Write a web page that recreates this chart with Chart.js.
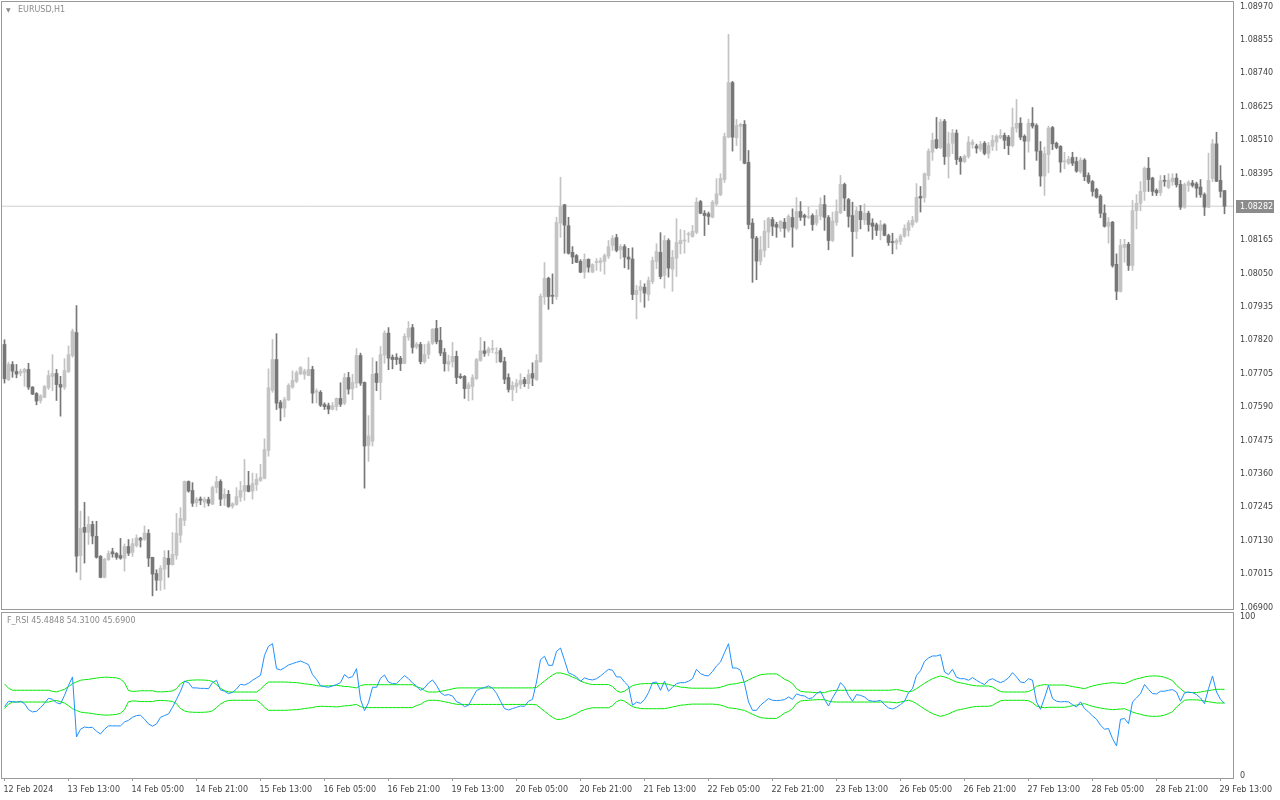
<!DOCTYPE html>
<html>
<head>
<meta charset="utf-8">
<title>EURUSD,H1</title>
<script src="https://cdn.jsdelivr.net/npm/chart.js@4.4.1/dist/chart.umd.min.js"></script>
<style>
  html, body { margin: 0; padding: 0; background: #fff; }
  body { width: 1280px; height: 800px; position: relative; overflow: hidden; font-family: "DejaVu Sans", sans-serif; }
  canvas { position: absolute; left: 0; }
  #priceChart { top: 0; }
  #rsiChart { top: 611px; }
  .caption { position: absolute; font-size: 8px; line-height: 10px; color: #8a8a8a; white-space: nowrap; }
</style>
</head>
<body>
<canvas id="priceChart" width="1280" height="611"></canvas>
<canvas id="rsiChart" width="1280" height="189"></canvas>
<div class="caption" style="left:6px;top:5px;font-size:6px">▼</div>
<div class="caption" style="left:18px;top:5px">EURUSD,H1</div>
<div class="caption" style="left:7px;top:616px">F_RSI 45.4848 54.3100 45.6900</div>
<script>
// time axis labels, one every 16 hourly bars
const tickLabels = ["12 Feb 2024","13 Feb 13:00","14 Feb 05:00","14 Feb 21:00","15 Feb 13:00",
  "16 Feb 05:00","16 Feb 21:00","19 Feb 13:00","20 Feb 05:00","20 Feb 21:00","21 Feb 13:00",
  "22 Feb 05:00","22 Feb 21:00","23 Feb 13:00","26 Feb 05:00","26 Feb 21:00","27 Feb 13:00",
  "28 Feb 05:00","28 Feb 21:00","29 Feb 13:00"];
const priceTicks = [1.08970,1.08855,1.08740,1.08625,1.08510,1.08395,1.08165,1.08050,1.07935,
  1.07820,1.07705,1.07590,1.07475,1.07360,1.07245,1.07130,1.07015,1.06900];
const rsiTicks = [0, 100];

// EURUSD H1 candles
const opens = [
1.07806,1.07684,1.07737,1.07713,1.07707,1.07710,1.07720,1.07659,1.07637,1.07613,
1.07624,1.07657,1.07696,1.07706,1.07668,1.07659,1.07713,1.07768,1.07847,1.07079,
1.07176,1.07159,1.07186,1.07145,1.07076,1.07004,1.07065,1.07092,1.07086,1.07079,
1.07070,1.07110,1.07090,1.07113,1.07139,1.07135,1.07155,1.07073,1.07017,1.06993,
1.07032,1.07069,1.07048,1.07080,1.07149,1.07200,1.07334,1.07303,1.07261,1.07274,
1.07263,1.07272,1.07256,1.07313,1.07334,1.07277,1.07290,1.07249,1.07255,1.07280,
1.07300,1.07320,1.07301,1.07323,1.07338,1.07345,1.07441,1.07648,1.07754,1.07606,
1.07587,1.07615,1.07659,1.07679,1.07705,1.07703,1.07699,1.07720,1.07642,1.07641,
1.07599,1.07595,1.07583,1.07592,1.07620,1.07604,1.07692,1.07654,1.07673,1.07768,
1.07675,1.07458,1.07473,1.07706,1.07675,1.07769,1.07845,1.07762,1.07761,1.07758,
1.07741,1.07831,1.07864,1.07797,1.07806,1.07747,1.07772,1.07810,1.07861,1.07820,
1.07778,1.07738,1.07747,1.07765,1.07696,1.07696,1.07654,1.07661,1.07689,1.07751,
1.07784,1.07778,1.07789,1.07775,1.07785,1.07747,1.07692,1.07651,1.07661,1.07668,
1.07685,1.07671,1.07706,1.07685,1.07747,1.07970,1.08034,1.07975,1.07971,1.08224,
1.08287,1.08215,1.08123,1.08112,1.08092,1.08055,1.08099,1.08055,1.08088,1.08088,
1.08092,1.08110,1.08147,1.08174,1.08132,1.08143,1.08107,1.08100,1.07978,1.07992,
1.08003,1.07978,1.08023,1.08092,1.08123,1.08044,1.08164,1.08065,1.08103,1.08153,
1.08162,1.08184,1.08178,1.08192,1.08298,1.08258,1.08256,1.08244,1.08290,1.08322,
1.08374,1.08520,1.08708,1.08518,1.08557,1.08564,1.08433,1.08224,1.08172,1.08093,
1.08130,1.08193,1.08236,1.08219,1.08206,1.08227,1.08199,1.08243,1.08206,1.08264,
1.08250,1.08244,1.08250,1.08224,1.08248,1.08288,1.08243,1.08164,1.08226,1.08260,
1.08357,1.08305,1.08250,1.08195,1.08264,1.08235,1.08258,1.08224,1.08218,1.08199,
1.08218,1.08181,1.08158,1.08155,1.08161,1.08179,1.08199,1.08218,1.08230,1.08316,
1.08312,1.08388,1.08468,1.08512,1.08484,1.08575,1.08454,1.08499,1.08534,1.08448,
1.08436,1.08454,1.08495,1.08489,1.08478,1.08499,1.08464,1.08489,1.08503,1.08518,
1.08526,1.08520,1.08491,1.08551,1.08568,1.08523,1.08506,1.08568,1.08560,1.08472,
1.08386,1.08460,1.08553,1.08499,1.08488,1.08435,1.08430,1.08450,1.08436,1.08402,
1.08441,1.08388,1.08367,1.08340,1.08317,1.08258,1.08213,1.08227,1.08082,1.07989,
1.08140,1.08151,1.08078,1.08267,1.08292,1.08333,1.08413,1.08379,1.08337,1.08329,
1.08371,1.08347,1.08367,1.08379,1.08357,1.08279,1.08354,1.08362,1.08359,1.08348,
1.08322,1.08279,1.08377,1.08497,1.08371,1.08336];
const highs = [
1.07822,1.07745,1.07747,1.07737,1.07721,1.07724,1.07741,1.07661,1.07640,1.07633,
1.07665,1.07716,1.07771,1.07720,1.07696,1.07757,1.07801,1.07859,1.07940,1.07232,
1.07262,1.07213,1.07197,1.07197,1.07079,1.07070,1.07095,1.07104,1.07089,1.07138,
1.07119,1.07134,1.07137,1.07150,1.07142,1.07181,1.07168,1.07073,1.07030,1.07044,
1.07096,1.07096,1.07158,1.07224,1.07244,1.07336,1.07336,1.07330,1.07279,1.07281,
1.07280,1.07280,1.07318,1.07352,1.07340,1.07309,1.07303,1.07261,1.07313,1.07334,
1.07410,1.07369,1.07363,1.07361,1.07393,1.07481,1.07722,1.07823,1.07843,1.07613,
1.07624,1.07671,1.07715,1.07715,1.07730,1.07721,1.07761,1.07731,1.07653,1.07647,
1.07605,1.07604,1.07606,1.07622,1.07674,1.07706,1.07710,1.07703,1.07792,1.07776,
1.07677,1.07561,1.07760,1.07747,1.07799,1.07853,1.07864,1.07770,1.07774,1.07765,
1.07843,1.07885,1.07875,1.07813,1.07813,1.07806,1.07817,1.07861,1.07889,1.07865,
1.07792,1.07769,1.07813,1.07783,1.07705,1.07699,1.07675,1.07702,1.07758,1.07830,
1.07816,1.07797,1.07820,1.07795,1.07793,1.07762,1.07705,1.07678,1.07686,1.07705,
1.07693,1.07719,1.07743,1.07771,1.07980,1.08088,1.08038,1.08049,1.08244,1.08382,
1.08289,1.08244,1.08143,1.08116,1.08098,1.08118,1.08101,1.08084,1.08102,1.08104,
1.08118,1.08164,1.08181,1.08185,1.08150,1.08150,1.08137,1.08139,1.08009,1.08026,
1.08015,1.08038,1.08107,1.08153,1.08191,1.08181,1.08170,1.08130,1.08239,1.08202,
1.08199,1.08193,1.08216,1.08311,1.08302,1.08267,1.08262,1.08302,1.08377,1.08394,
1.08534,1.08874,1.08712,1.08581,1.08568,1.08577,1.08474,1.08239,1.08178,1.08178,
1.08233,1.08244,1.08244,1.08227,1.08233,1.08240,1.08253,1.08273,1.08312,1.08298,
1.08255,1.08279,1.08256,1.08270,1.08311,1.08319,1.08250,1.08262,1.08304,1.08388,
1.08362,1.08309,1.08296,1.08279,1.08285,1.08290,1.08265,1.08239,1.08224,1.08233,
1.08222,1.08186,1.08189,1.08170,1.08185,1.08218,1.08233,1.08247,1.08360,1.08350,
1.08397,1.08480,1.08534,1.08588,1.08582,1.08581,1.08537,1.08547,1.08545,1.08454,
1.08459,1.08522,1.08511,1.08496,1.08505,1.08505,1.08502,1.08526,1.08528,1.08546,
1.08534,1.08526,1.08620,1.08650,1.08587,1.08528,1.08582,1.08622,1.08566,1.08505,
1.08486,1.08558,1.08557,1.08503,1.08491,1.08468,1.08454,1.08468,1.08451,1.08449,
1.08446,1.08397,1.08371,1.08344,1.08322,1.08287,1.08243,1.08230,1.08118,1.08168,
1.08168,1.08158,1.08302,1.08322,1.08367,1.08417,1.08450,1.08382,1.08342,1.08388,
1.08388,1.08394,1.08394,1.08394,1.08371,1.08362,1.08370,1.08371,1.08365,1.08374,
1.08328,1.08465,1.08512,1.08537,1.08422,1.08336];
const lows = [
1.07673,1.07682,1.07693,1.07691,1.07698,1.07662,1.07651,1.07633,1.07598,1.07604,
1.07622,1.07651,1.07647,1.07613,1.07559,1.07651,1.07709,1.07762,1.07022,1.06995,
1.07053,1.07117,1.07119,1.07070,1.07002,1.07002,1.07062,1.07073,1.07066,1.07066,
1.07025,1.07079,1.07076,1.07108,1.07108,1.07131,1.07041,1.06940,1.06959,1.06959,
1.06963,1.07004,1.07046,1.07066,1.07124,1.07182,1.07297,1.07248,1.07248,1.07254,
1.07245,1.07250,1.07254,1.07295,1.07251,1.07251,1.07245,1.07242,1.07252,1.07265,
1.07269,1.07298,1.07273,1.07303,1.07334,1.07343,1.07421,1.07641,1.07582,1.07543,
1.07556,1.07613,1.07655,1.07674,1.07702,1.07686,1.07698,1.07604,1.07604,1.07592,
1.07582,1.07567,1.07580,1.07579,1.07592,1.07598,1.07635,1.07616,1.07657,1.07665,
1.07311,1.07403,1.07456,1.07647,1.07616,1.07741,1.07719,1.07722,1.07737,1.07716,
1.07739,1.07820,1.07776,1.07791,1.07739,1.07741,1.07757,1.07806,1.07808,1.07767,
1.07714,1.07714,1.07728,1.07671,1.07688,1.07620,1.07612,1.07615,1.07685,1.07748,
1.07765,1.07767,1.07777,1.07743,1.07744,1.07671,1.07642,1.07612,1.07640,1.07654,
1.07661,1.07654,1.07664,1.07682,1.07744,1.07944,1.07927,1.07946,1.07961,1.08175,
1.08120,1.08117,1.08084,1.08088,1.08053,1.08034,1.08055,1.08053,1.08061,1.08058,
1.08048,1.08102,1.08130,1.08125,1.08101,1.08070,1.08065,1.07960,1.07894,1.07952,
1.07934,1.07957,1.08015,1.08067,1.08032,1.08000,1.08038,1.07989,1.08040,1.08118,
1.08120,1.08158,1.08175,1.08187,1.08256,1.08181,1.08219,1.08242,1.08285,1.08318,
1.08364,1.08518,1.08472,1.08491,1.08440,1.08428,1.08204,1.08020,1.08029,1.08080,
1.08107,1.08139,1.08181,1.08175,1.08195,1.08175,1.08193,1.08141,1.08201,1.08233,
1.08216,1.08239,1.08199,1.08216,1.08235,1.08199,1.08132,1.08160,1.08216,1.08256,
1.08267,1.08210,1.08109,1.08170,1.08204,1.08219,1.08196,1.08168,1.08181,1.08166,
1.08180,1.08147,1.08118,1.08134,1.08150,1.08175,1.08179,1.08210,1.08225,1.08262,
1.08296,1.08374,1.08440,1.08480,1.08480,1.08426,1.08379,1.08463,1.08426,1.08392,
1.08432,1.08448,1.08482,1.08465,1.08471,1.08459,1.08448,1.08474,1.08474,1.08514,
1.08480,1.08460,1.08486,1.08537,1.08511,1.08409,1.08468,1.08551,1.08440,1.08351,
1.08319,1.08397,1.08477,1.08480,1.08399,1.08411,1.08426,1.08422,1.08399,1.08396,
1.08370,1.08360,1.08317,1.08310,1.08243,1.08210,1.08155,1.08072,1.07960,1.07986,
1.08089,1.08061,1.08061,1.08204,1.08266,1.08302,1.08333,1.08319,1.08319,1.08319,
1.08351,1.08342,1.08354,1.08348,1.08271,1.08275,1.08333,1.08348,1.08313,1.08313,
1.08250,1.08277,1.08367,1.08367,1.08313,1.08256];
const closes = [
1.07688,1.07737,1.07714,1.07704,1.07713,1.07720,1.07659,1.07635,1.07611,1.07629,
1.07661,1.07699,1.07706,1.07668,1.07659,1.07716,1.07771,1.07852,1.07077,1.07172,
1.07159,1.07186,1.07146,1.07073,1.07004,1.07066,1.07086,1.07085,1.07073,1.07070,
1.07110,1.07087,1.07120,1.07139,1.07132,1.07157,1.07070,1.07015,1.06994,1.07035,
1.07072,1.07048,1.07083,1.07156,1.07207,1.07334,1.07301,1.07259,1.07273,1.07269,
1.07272,1.07259,1.07313,1.07333,1.07273,1.07290,1.07248,1.07257,1.07282,1.07303,
1.07320,1.07300,1.07327,1.07341,1.07348,1.07444,1.07657,1.07754,1.07604,1.07587,
1.07616,1.07665,1.07682,1.07709,1.07726,1.07714,1.07720,1.07638,1.07645,1.07597,
1.07592,1.07583,1.07595,1.07620,1.07600,1.07692,1.07652,1.07675,1.07768,1.07673,
1.07456,1.07491,1.07703,1.07675,1.07771,1.07845,1.07759,1.07754,1.07754,1.07740,
1.07834,1.07861,1.07796,1.07807,1.07747,1.07771,1.07808,1.07858,1.07816,1.07776,
1.07740,1.07747,1.07765,1.07692,1.07692,1.07654,1.07667,1.07692,1.07754,1.07784,
1.07775,1.07790,1.07791,1.07778,1.07747,1.07686,1.07651,1.07665,1.07673,1.07682,
1.07671,1.07702,1.07690,1.07751,1.07972,1.08034,1.07971,1.07972,1.08226,1.08281,
1.08217,1.08120,1.08107,1.08089,1.08055,1.08099,1.08072,1.08081,1.08089,1.08095,
1.08112,1.08143,1.08171,1.08130,1.08143,1.08107,1.08100,1.07978,1.07992,1.08006,
1.07983,1.08026,1.08095,1.08126,1.08040,1.08164,1.08069,1.08106,1.08157,1.08164,
1.08166,1.08185,1.08196,1.08296,1.08258,1.08250,1.08247,1.08296,1.08325,1.08378,
1.08522,1.08708,1.08520,1.08560,1.08564,1.08430,1.08219,1.08172,1.08093,1.08132,
1.08196,1.08240,1.08213,1.08210,1.08230,1.08206,1.08247,1.08210,1.08264,1.08244,
1.08244,1.08246,1.08219,1.08250,1.08288,1.08244,1.08164,1.08231,1.08264,1.08357,
1.08310,1.08247,1.08195,1.08267,1.08236,1.08258,1.08219,1.08213,1.08199,1.08218,
1.08182,1.08157,1.08157,1.08164,1.08179,1.08206,1.08225,1.08234,1.08313,1.08310,
1.08394,1.08472,1.08509,1.08483,1.08572,1.08453,1.08497,1.08534,1.08443,1.08436,
1.08454,1.08503,1.08503,1.08482,1.08495,1.08464,1.08491,1.08509,1.08523,1.08526,
1.08509,1.08491,1.08553,1.08568,1.08520,1.08506,1.08568,1.08558,1.08472,1.08386,
1.08463,1.08551,1.08497,1.08485,1.08434,1.08437,1.08444,1.08430,1.08403,1.08441,
1.08384,1.08365,1.08333,1.08313,1.08258,1.08213,1.08227,1.08078,1.07989,1.08147,
1.08151,1.08078,1.08267,1.08292,1.08333,1.08413,1.08374,1.08333,1.08328,1.08370,
1.08368,1.08372,1.08379,1.08356,1.08279,1.08357,1.08364,1.08354,1.08344,1.08322,
1.08279,1.08371,1.08497,1.08368,1.08333,1.08282];

// F_RSI indicator and its two bands
const rsiValues = [
43.2,46.8,46.6,46.2,46.8,45.3,41.5,40.1,40.5,42.8,
45.5,48.7,48.0,45.9,45.1,50.5,56.8,62.1,24.3,29.2,
30.6,30.2,30.4,27.9,26.2,29.2,31.3,31.3,31.3,31.3,
33.8,34.8,36.7,37.8,38.0,35.5,32.5,31.1,32.5,36.7,
37.8,38.8,43.0,48.0,53.1,59.4,58.5,55.2,55.2,54.9,
54.9,54.7,58.5,60.0,53.9,53.1,51.6,52.4,54.5,57.5,
57.0,58.1,60.0,61.5,63.1,75.7,81.4,83.0,67.3,66.5,
67.9,69.6,70.5,71.3,72.1,71.1,69.8,63.6,60.6,56.6,
56.0,55.6,56.4,57.3,58.5,63.6,61.5,62.3,67.3,48.0,
40.9,45.9,55.6,55.6,61.2,63.3,58.9,57.9,57.9,60.4,
62.9,61.0,58.3,56.4,53.7,55.2,58.3,60.2,56.8,52.2,
50.5,51.0,50.1,46.6,45.5,43.4,44.3,48.9,53.5,54.7,
55.4,56.4,55.0,51.8,46.8,42.2,41.3,42.2,43.0,43.8,
43.6,46.8,48.0,58.9,73.0,75.1,69.4,69.4,78.2,80.3,
72.6,64.6,63.6,62.1,59.4,61.5,60.6,60.2,61.0,62.7,
64.8,66.9,66.3,62.1,62.1,58.9,56.4,44.3,46.2,45.5,
47.8,52.2,58.5,58.9,53.7,59.4,53.1,55.6,57.9,58.5,
58.5,59.4,61.0,66.9,64.2,63.1,62.7,65.6,69.0,71.5,
77.4,83.0,67.7,67.7,66.3,57.9,46.4,41.1,41.1,44.3,
46.4,48.5,47.4,47.2,47.4,47.8,49.5,48.0,51.4,50.5,
50.1,48.5,48.9,51.6,53.1,48.0,43.8,48.9,53.1,58.5,
55.8,50.5,46.8,51.0,50.5,49.5,47.4,46.8,46.8,47.4,
44.7,42.6,41.9,43.0,44.7,46.8,52.2,54.7,63.1,66.0,
71.9,74.0,75.3,75.3,76.1,65.2,63.6,66.9,61.9,61.0,
61.0,60.0,61.7,60.0,58.5,57.3,60.0,61.0,59.6,58.5,
59.6,61.5,64.8,62.1,58.9,58.5,61.0,60.0,46.4,41.7,
48.9,56.8,48.5,46.8,46.4,46.6,46.4,44.7,43.2,46.4,
42.2,40.1,37.6,35.5,31.7,29.2,29.6,23.3,18.7,35.5,
35.9,32.7,46.4,48.9,51.6,57.3,54.3,51.6,51.4,53.1,
53.1,53.7,54.1,52.6,46.8,52.0,52.6,52.2,51.0,48.9,
45.3,54.7,62.7,52.6,48.0,45.4848];
const upperBand = [
57.7,55.0,53.7,53.7,53.7,53.7,53.7,53.7,53.7,53.7,
53.7,53.7,53.0,52.7,53.5,54.3,56.0,57.9,59.0,60.0,
60.4,60.6,61.0,61.4,61.7,61.9,61.9,61.7,61.5,60.7,
58.5,53.5,53.0,53.1,53.4,53.4,53.4,53.4,52.8,52.7,
52.8,53.0,53.3,54.7,57.8,59.3,59.9,60.1,60.2,60.2,
60.1,59.9,59.2,57.2,55.0,53.5,52.7,52.6,52.6,52.6,
52.6,52.6,52.6,52.6,54.3,57.0,58.9,58.9,58.9,58.9,
58.9,58.8,58.6,58.5,58.2,57.8,57.5,57.2,56.6,56.4,
56.4,56.5,56.6,56.8,56.5,56.1,56.0,55.6,55.2,56.6,
57.2,57.2,57.2,57.2,57.2,57.2,57.2,57.2,57.2,57.2,
57.2,57.2,57.2,55.9,55.2,53.5,52.6,52.6,52.6,53.0,
53.5,54.0,54.6,55.1,55.2,55.2,55.2,55.2,55.2,55.2,
55.2,55.2,55.2,55.2,55.2,55.2,55.2,55.2,55.2,55.2,
55.2,55.2,55.2,55.5,57.5,59.5,61.5,63.3,64.6,64.6,
64.0,63.2,62.0,61.0,59.5,58.5,57.8,57.3,57.3,57.3,
57.3,57.3,56.0,53.5,52.4,53.1,54.9,56.6,57.3,57.7,
57.9,57.9,57.9,57.9,57.9,57.8,57.4,56.8,56.3,55.7,
55.5,55.2,55.0,55.0,55.0,55.0,55.0,55.0,55.2,55.6,
56.4,57.3,57.6,57.9,58.5,58.9,60.2,61.4,62.5,63.5,
63.8,64.0,64.0,64.0,62.5,60.6,59.6,57.9,54.7,53.1,
52.7,52.6,52.4,52.2,52.2,52.2,53.1,53.5,53.7,53.7,
53.7,53.7,53.7,53.7,53.7,53.7,53.7,53.7,53.7,53.7,
53.7,53.7,53.9,54.2,53.7,53.1,52.6,53.3,54.7,56.4,
58.1,59.6,61.0,61.9,62.7,62.1,61.2,60.0,58.9,58.4,
57.9,57.3,56.8,56.5,56.4,56.4,56.4,55.8,54.3,52.9,
52.6,52.6,52.6,52.6,52.6,52.6,52.9,54.1,56.2,56.8,
57.3,57.0,57.0,57.0,57.0,57.0,56.6,56.0,55.6,55.2,
54.7,55.6,56.4,57.0,57.5,57.9,58.2,58.5,58.3,58.1,
57.9,58.9,60.0,60.8,61.4,62.1,62.5,62.7,62.7,62.5,
61.9,61.0,59.8,56.8,54.7,52.6,52.3,52.3,52.3,52.6,
53.1,53.5,53.9,54.3,54.3,54.31];
const lowerBand = [
42.3,45.0,46.3,46.3,46.3,46.3,46.3,46.3,46.3,46.3,
46.3,46.3,47.0,47.3,46.5,45.7,44.0,42.1,41.0,40.0,
39.6,39.4,39.0,38.6,38.3,38.1,38.1,38.3,38.5,39.3,
41.5,46.5,47.0,46.9,46.6,46.6,46.6,46.6,47.2,47.3,
47.2,47.0,46.7,45.3,42.2,40.7,40.1,39.9,39.8,39.8,
39.9,40.1,40.8,42.8,45.0,46.5,47.3,47.4,47.4,47.4,
47.4,47.4,47.4,47.4,45.7,43.0,41.1,41.1,41.1,41.1,
41.1,41.2,41.4,41.5,41.8,42.2,42.5,42.8,43.4,43.6,
43.6,43.5,43.4,43.2,43.5,43.9,44.0,44.4,44.8,43.4,
42.8,42.8,42.8,42.8,42.8,42.8,42.8,42.8,42.8,42.8,
42.8,42.8,42.8,44.1,44.8,46.5,47.4,47.4,47.4,47.0,
46.5,46.0,45.4,44.9,44.8,44.8,44.8,44.8,44.8,44.8,
44.8,44.8,44.8,44.8,44.8,44.8,44.8,44.8,44.8,44.8,
44.8,44.8,44.8,44.5,42.5,40.5,38.5,36.7,35.4,35.4,
36.0,36.8,38.0,39.0,40.5,41.5,42.2,42.7,42.7,42.7,
42.7,42.7,44.0,46.5,47.6,46.9,45.1,43.4,42.7,42.3,
42.1,42.1,42.1,42.1,42.1,42.2,42.6,43.2,43.7,44.3,
44.5,44.8,45.0,45.0,45.0,45.0,45.0,45.0,44.8,44.4,
43.6,42.7,42.4,42.1,41.5,41.1,39.8,38.6,37.5,36.5,
36.2,36.0,36.0,36.0,37.5,39.4,40.4,42.1,45.3,46.9,
47.3,47.4,47.6,47.8,47.8,47.8,46.9,46.5,46.3,46.3,
46.3,46.3,46.3,46.3,46.3,46.3,46.3,46.3,46.3,46.3,
46.3,46.3,46.1,45.8,46.3,46.9,47.4,46.7,45.3,43.6,
41.9,40.4,39.0,38.1,37.3,37.9,38.8,40.0,41.1,41.6,
42.1,42.7,43.2,43.5,43.6,43.6,43.6,44.2,45.7,47.1,
47.4,47.4,47.4,47.4,47.4,47.4,47.1,45.9,43.8,43.2,
42.7,43.0,43.0,43.0,43.0,43.0,43.4,44.0,44.4,44.8,
45.3,44.4,43.6,43.0,42.5,42.1,41.8,41.5,41.7,41.9,
42.1,41.1,40.0,39.2,38.6,37.9,37.5,37.3,37.3,37.5,
38.1,39.0,40.2,43.2,45.3,47.4,47.7,47.7,47.7,47.4,
46.9,46.5,46.1,45.7,45.7,45.69];

Chart.defaults.font.family = '"DejaVu Sans", sans-serif';
Chart.defaults.font.size = 8;

const BULL = '#c3c3c3';
const BEAR = '#777777';
const AXIS = '#9a9a9a';
const xMin = -0.625;
const xMax = 307.125;
const bars = closes.map((c, i) => i);
const candleColors = closes.map((c, i) => (c >= opens[i] ? BULL : BEAR));
const lastClose = closes[closes.length - 1];

// keep the plot area where MT4 puts it: no extra room for half labels
function fixWidth(s) {
  s.width = 47;
  s.paddingTop = 0;
  s.paddingBottom = 0;
}
function fixHeight(s) {
  s.height = 22;
  s.paddingLeft = 0;
  s.paddingRight = 0;
}

// window frame round the plot area
const frame = {
  id: 'frame',
  afterDraw(chart) {
    const { ctx, chartArea: a } = chart;
    ctx.save();
    ctx.strokeStyle = AXIS;
    ctx.lineWidth = 1;
    ctx.strokeRect(a.left - 0.5, a.top - 0.5, a.width + 1, a.height + 1);
    ctx.restore();
  }
};

// grey box with the current bid on the price scale
const priceTag = {
  id: 'priceTag',
  afterDraw(chart) {
    const { ctx, chartArea: a } = chart;
    const y = Math.round(chart.scales.y.getPixelForValue(lastClose));
    ctx.save();
    ctx.fillStyle = '#8c8c8c';
    ctx.fillRect(a.right + 3, y - 6, 38, 13);
    ctx.fillStyle = '#ffffff';
    ctx.font = '8px "DejaVu Sans"';
    ctx.textBaseline = 'middle';
    ctx.fillText(lastClose.toFixed(5), a.right + 7, y + 0.5);
    ctx.restore();
  }
};

new Chart(document.getElementById('priceChart'), {
  type: 'bar',
  data: {
    datasets: [
      {
        type: 'line',
        data: [{ x: xMin, y: lastClose }, { x: xMax, y: lastClose }],
        borderColor: '#cfcfcf',
        borderWidth: 1,
        pointRadius: 0,
        order: 3
      },
      {
        data: bars.map(i => ({ x: i, y: [lows[i], highs[i]] })),
        backgroundColor: candleColors,
        barThickness: 1,
        grouped: false,
        order: 2
      },
      {
        data: bars.map(i => ({ x: i, y: [opens[i], closes[i]] })),
        backgroundColor: candleColors,
        barThickness: 3,
        minBarLength: 1,
        grouped: false,
        order: 1
      }
    ]
  },
  options: {
    responsive: false,
    animation: false,
    events: [],
    layout: { padding: { left: 2, top: 2, right: 0, bottom: 2 } },
    plugins: { legend: { display: false }, tooltip: { enabled: false } },
    scales: {
      x: { type: 'linear', min: xMin, max: xMax, offset: false, display: false },
      y: {
        position: 'right',
        min: 1.068948,
        max: 1.089855,
        afterFit: fixWidth,
        afterBuildTicks: s => { s.ticks = priceTicks.map(v => ({ value: v })); },
        grid: { display: false, drawTicks: false },
        border: { display: false },
        ticks: { padding: 7, color: '#444', callback: v => v.toFixed(5) }
      }
    }
  },
  plugins: [frame, priceTag]
});

new Chart(document.getElementById('rsiChart'), {
  type: 'line',
  data: {
    datasets: [
      { data: bars.map(i => ({ x: i, y: rsiValues[i] })), borderColor: '#1e90ff', borderWidth: 1, pointRadius: 0 },
      { data: bars.map(i => ({ x: i, y: upperBand[i] })), borderColor: '#00ee00', borderWidth: 1, pointRadius: 0 },
      { data: bars.map(i => ({ x: i, y: lowerBand[i] })), borderColor: '#00ee00', borderWidth: 1, pointRadius: 0 }
    ]
  },
  options: {
    responsive: false,
    animation: false,
    events: [],
    layout: { padding: { left: 2, top: 2, right: 0, bottom: 0 } },
    plugins: { legend: { display: false }, tooltip: { enabled: false } },
    scales: {
      x: {
        type: 'linear',
        min: xMin,
        max: xMax,
        offset: false,
        afterFit: fixHeight,
        afterBuildTicks: s => { s.ticks = tickLabels.map((t, k) => ({ value: k * 16 })); },
        grid: { drawOnChartArea: false, drawTicks: true, tickLength: 3, color: AXIS },
        border: { display: false },
        ticks: {
          align: 'start',
          autoSkip: false,
          maxRotation: 0,
          padding: 4,
          labelOffset: -1,
          color: '#444',
          callback: (v, k) => tickLabels[k]
        }
      },
      y: {
        position: 'right',
        min: -1.5,
        max: 102.33,
        afterFit: fixWidth,
        afterBuildTicks: s => { s.ticks = rsiTicks.map(v => ({ value: v })); },
        grid: { display: false, drawTicks: false },
        border: { display: false },
        ticks: { padding: 7, color: '#444' }
      }
    }
  },
  plugins: [frame]
});
</script>
</body>
</html>
